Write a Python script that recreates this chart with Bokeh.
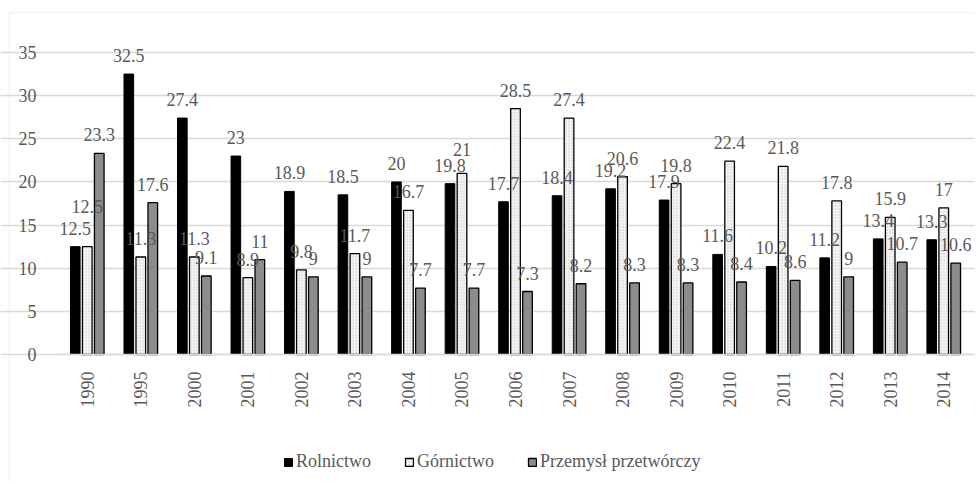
from bokeh.plotting import figure
from bokeh.models import (ColumnDataSource, Range1d, FixedTicker, LabelSet,
                          Legend, LegendItem, BoxAnnotation)
from bokeh.core.properties import value
from bokeh.transform import dodge
from bokeh.embed import file_html
from bokeh.resources import INLINE
import math

years = ["1990", "1995", "2000", "2001", "2002", "2003", "2004", "2005", "2006",
         "2007", "2008", "2009", "2010", "2011", "2012", "2013", "2014"]
rolnictwo = [12.5, 32.5, 27.4, 23, 18.9, 18.5, 20, 19.8, 17.7, 18.4, 19.2, 17.9,
             11.6, 10.2, 11.2, 13.4, 13.3]
gornictwo = [12.5, 11.3, 11.3, 8.9, 9.8, 11.7, 16.7, 21, 28.5, 27.4, 20.6, 19.8,
             22.4, 21.8, 17.8, 15.9, 17]
przemysl = [23.3, 17.6, 9.1, 11, 9, 9, 7.7, 7.7, 7.3, 8.2, 8.3, 8.3, 8.4, 8.6,
            9, 10.7, 10.6]
series_names = ["Rolnictwo", "Górnictwo", "Przemysł przetwórczy"]
y_ticks = [0, 5, 10, 15, 20, 25, 30, 35]

# ---- layout / style (pixels) ----
W, H = 975, 482
PLOT_L, PLOT_R = 60, 970          # plot area in pixels
ZERO_Y, TOP_Y = 354, 52           # pixel rows of value 0 and value 35
BORDER_X, BORDER_Y = 9, 12        # chart-area border
FONT = "Liberation Serif"
TXT = "#595959"
GRID = "#d9d9d9"
LABEL_LIFT = {("gor", 0): 22, ("gor", 7): 5}   # manual label nudges

n = len(years)
px_cat = (PLOT_R - PLOT_L) / n
px_val = (ZERO_Y - TOP_Y) / y_ticks[-1]
x0 = -0.5 - PLOT_L / px_cat
x1 = x0 + W / px_cat
y1 = ZERO_Y / px_val
y0 = -(H - ZERO_Y) / px_val


def fmt(v):
    return f"{v:g}"


data = dict(xi=list(range(n)), year=years,
            rol=rolnictwo, gor=gornictwo, prz=przemysl)
for key, vals in [("rol", rolnictwo), ("gor", gornictwo), ("prz", przemysl)]:
    data[key + "_l"] = [fmt(v) for v in vals]
    data[key + "_o"] = [12 + LABEL_LIFT.get((key, i), 0) for i in range(n)]
src = ColumnDataSource(data)

p = figure(width=W, height=H, output_backend="svg", toolbar_location=None,
           x_range=Range1d(x0, x1), y_range=Range1d(y0, y1),
           min_border=0, min_border_left=0, min_border_right=0,
           min_border_top=0, min_border_bottom=0)
p.outline_line_color = None
p.background_fill_color = "white"
p.border_fill_color = "white"

# chart-area border (top and left visible)
p.add_layout(BoxAnnotation(left=x0 + BORDER_X / px_cat, right=x1 + 5,
                           top=y1 - BORDER_Y / px_val, bottom=y0 - 5,
                           fill_alpha=0, line_color=GRID, line_width=1.5))

off = 0.224
bw = 0.18
r1 = p.vbar(x=dodge("xi", -off), top="rol", width=bw, source=src,
            fill_color="black", line_color="black", line_width=1)
r2 = p.vbar(x=dodge("xi", 0), top="gor", width=bw, source=src,
            fill_color="#f4f4f4", line_color="black", line_width=1.3,
            hatch_pattern="dot", hatch_color="#cccccc", hatch_scale=3,
            hatch_weight=1)
r3 = p.vbar(x=dodge("xi", off), top="prz", width=bw, source=src,
            fill_color="#8c8c8c", line_color="black", line_width=1.3)

for dx, col in [(-off, "rol"), (0, "gor"), (off, "prz")]:
    p.add_layout(LabelSet(x=dodge("xi", dx), y=col, text=col + "_l",
                          source=src, y_offset=col + "_o",
                          text_align="center", text_baseline="alphabetic",
                          text_font=value(FONT), text_font_size=value("18px"),
                          text_color=value(TXT)))

p.xgrid.grid_line_color = None
p.ygrid.ticker = FixedTicker(ticks=y_ticks)
p.ygrid.grid_line_color = GRID
p.ygrid.grid_line_width = 1.5
p.ygrid.bounds = (-0.5, n - 0.5)

p.yaxis.fixed_location = -0.5
p.yaxis.ticker = FixedTicker(ticks=y_ticks)
p.yaxis.axis_line_color = None
p.yaxis.major_tick_line_color = None
p.yaxis.minor_tick_line_color = None
p.yaxis.major_label_standoff = 18
p.yaxis.major_label_text_font = FONT
p.yaxis.major_label_text_font_size = "18px"
p.yaxis.major_label_text_color = TXT

p.xaxis.fixed_location = 0
p.xaxis.bounds = (-0.5, n - 0.5)
p.xaxis.ticker = FixedTicker(ticks=list(range(n)))
p.xaxis.major_label_overrides = {i: y for i, y in enumerate(years)}
p.xaxis.axis_line_color = GRID
p.xaxis.axis_line_width = 1.5
p.xaxis.major_tick_line_color = None
p.xaxis.minor_tick_line_color = None
p.xaxis.major_label_orientation = math.pi / 2
p.xaxis.major_label_standoff = 11
p.xaxis.major_label_text_font = FONT
p.xaxis.major_label_text_font_size = "18px"
p.xaxis.major_label_text_color = TXT

legend = Legend(items=[LegendItem(label=series_names[0], renderers=[r1]),
                       LegendItem(label=series_names[1], renderers=[r2]),
                       LegendItem(label=series_names[2], renderers=[r3])],
                orientation="horizontal", location=(283, 10),
                glyph_width=10, glyph_height=10, label_standoff=3, spacing=33,
                padding=0, margin=0, border_line_color=None,
                background_fill_alpha=0,
                label_text_font=FONT, label_text_font_size="18px",
                label_text_color=TXT)
p.add_layout(legend, "center")

open("out.html", "w").write(file_html(p, INLINE))
